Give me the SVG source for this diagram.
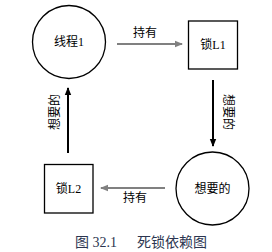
<svg xmlns="http://www.w3.org/2000/svg" width="272" height="252" viewBox="0 0 272 252">
<style>
.n{fill:#fff;stroke:#000;stroke-width:1.3}
.t{font-family:"Liberation Serif","Noto Sans CJK SC",serif;font-size:12px;fill:#000;text-anchor:middle;dominant-baseline:central}
.g{stroke:#808080;stroke-width:2;fill:none}
.b{stroke:#000;stroke-width:2;fill:none}
.cap{font-family:"Liberation Serif","Noto Sans CJK SC",serif;font-size:14px;fill:#2b3550}
</style>
<defs>
<marker id="ag" markerWidth="8" markerHeight="8" refX="7" refY="4" orient="auto" markerUnits="userSpaceOnUse"><path d="M0,0.8 L8,4 L0,7.2 Z" fill="#808080"/></marker>
<marker id="ab" markerWidth="8" markerHeight="8" refX="7" refY="4" orient="auto" markerUnits="userSpaceOnUse"><path d="M0,0.8 L8,4 L0,7.2 Z" fill="#000"/></marker>
</defs>
<g id="connectors">
<line class="g" x1="117" y1="44" x2="182" y2="44" marker-end="url(#ag)"/>
<text class="t" x="145" y="33">持有</text>
<line class="b" x1="213" y1="80" x2="213" y2="146" marker-end="url(#ab)"/>
<text class="t" transform="translate(228,112) rotate(90)">想要的</text>
<line class="g" x1="165" y1="188" x2="101" y2="188" marker-end="url(#ag)"/>
<text class="t" x="135" y="198">持有</text>
<line class="b" x1="68" y1="153" x2="68" y2="88" marker-end="url(#ab)"/>
<text class="t" transform="translate(55,112) rotate(-90)">想要的</text>
</g>
<g id="thread1">
<circle class="n" cx="69" cy="42" r="36.5"/>
<text class="t" x="69" y="42">线程1</text>
</g>
<g id="lockL1">
<rect class="n" x="188.5" y="21" width="49" height="48"/>
<text class="t" x="213" y="45">锁L1</text>
</g>
<g id="wanted">
<circle class="n" cx="212.5" cy="188.5" r="36.5"/>
<text class="t" x="212.5" y="188.5">想要的</text>
</g>
<g id="lockL2">
<rect class="n" x="44.5" y="164.5" width="48.5" height="48.5"/>
<text class="t" x="68.5" y="189">锁L2</text>
</g>
<text class="cap" x="75" y="247">图 32.1</text>
<text class="cap" x="137" y="247">死锁依赖图</text>
</svg>
